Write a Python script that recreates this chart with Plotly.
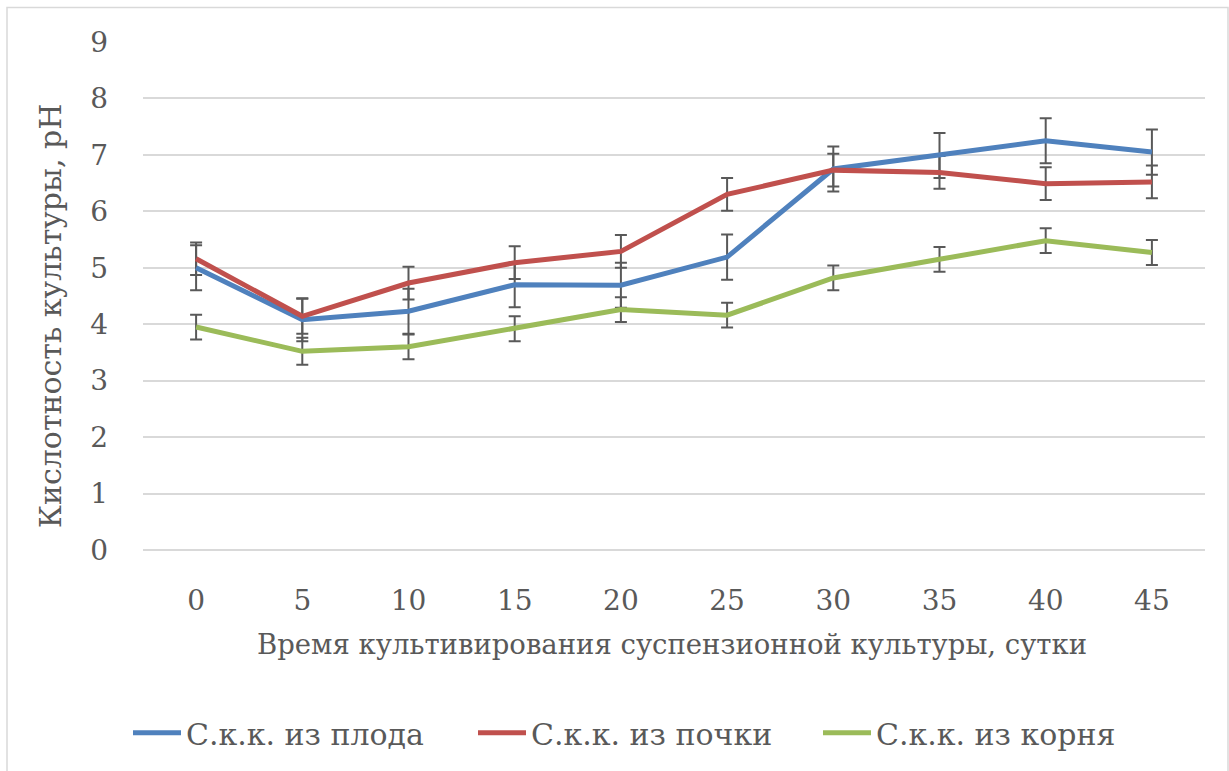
import plotly.graph_objects as go

# Culture age, days
days = ["0", "5", "10", "15", "20", "25", "30", "35", "40", "45"]

# Mean pH of each suspension culture
ph_fruit = [5.00, 4.08, 4.23, 4.70, 4.69, 5.19, 6.75, 6.99, 7.25, 7.05]
ph_bud = [5.16, 4.14, 4.73, 5.09, 5.29, 6.30, 6.73, 6.69, 6.49, 6.52]
ph_root = [3.95, 3.52, 3.60, 3.92, 4.26, 4.16, 4.82, 5.15, 5.48, 5.27]

# Error (±) for each point
err_fruit = [0.40, 0.38, 0.40, 0.40, 0.40, 0.40, 0.40, 0.40, 0.40, 0.40]
err_bud = [0.29, 0.31, 0.29, 0.29, 0.29, 0.29, 0.29, 0.29, 0.29, 0.29]
err_root = [0.22, 0.24, 0.22, 0.22, 0.22, 0.22, 0.22, 0.22, 0.22, 0.22]

names = ["С.к.к. из плода", "С.к.к. из почки", "С.к.к. из корня"]
colors = ["#4F81BD", "#C0504D", "#9BBB59"]
series = [ph_fruit, ph_bud, ph_root]
errors = [err_fruit, err_bud, err_root]

x_title = "Время культивирования суспензионной культуры, сутки"
y_title = "Кислотность культуры, рН"

FONT = "DejaVu Serif"
TXT = "#595959"

fig = go.Figure()

# error bars first so that all lines sit on top of them
for ys, es in zip(series, errors):
    fig.add_trace(go.Scatter(
        x=days, y=ys, mode="markers",
        marker=dict(size=1, opacity=0),
        error_y=dict(type="data", array=es, visible=True,
                     color="#595959", thickness=2, width=6),
        showlegend=False, hoverinfo="skip",
    ))

for ys, name, c in zip(series, names, colors):
    fig.add_trace(go.Scatter(
        x=days, y=ys, mode="lines", name=name,
        line=dict(color=c, width=5),
    ))

L, R, T, B = 143, 24, 42, 214
W, H = 1229, 771
pw, ph = W - L - R, H - T - B

def px_x(px):
    return (px - L) / pw

def px_y(py):
    return (H - B - py) / ph

# chart frame
fig.add_shape(type="rect", xref="paper", yref="paper",
              x0=px_x(7), x1=px_x(1228), y0=px_y(790), y1=px_y(7),
              line=dict(color="#d9d9d9", width=1.5), fillcolor="rgba(0,0,0,0)",
              layer="below")

# axis titles
fig.add_annotation(text=x_title, xref="paper", yref="paper",
                   x=px_x(672), y=px_y(652), xanchor="center", yanchor="middle",
                   showarrow=False, font=dict(size=27.5))
fig.add_annotation(text=y_title, xref="paper", yref="paper",
                   x=px_x(50), y=px_y(320), xanchor="center", yanchor="middle",
                   textangle=-90, showarrow=False, font=dict(size=30))

fig.update_layout(
    width=W, height=H,
    margin=dict(l=L, r=R, t=T, b=B, pad=0),
    paper_bgcolor="white", plot_bgcolor="white",
    font=dict(family=FONT, color=TXT, size=30),
    xaxis=dict(
        type="category", range=[-0.5, 9.5],
        showgrid=False, zeroline=False,
        showline=False,
        ticks="", ticklabelstandoff=31,
        tickfont=dict(size=28),
    ),
    yaxis=dict(
        range=[0, 9], dtick=1, tick0=0,
        showgrid=True, gridcolor="#d9d9d9", gridwidth=1.5,
        zeroline=True, zerolinecolor="#d9d9d9", zerolinewidth=1.5,
        showline=False, ticks="", ticklabelstandoff=34,
        tickfont=dict(size=28),
    ),
    legend=dict(
        orientation="h", x=px_x(128), xanchor="left",
        y=px_y(716), yanchor="top",
        font=dict(size=30),
        itemwidth=48, entrywidth=282, entrywidthmode="pixels",
        bgcolor="rgba(0,0,0,0)",
    ),
    showlegend=True,
)

fig.write_html("out.html")
